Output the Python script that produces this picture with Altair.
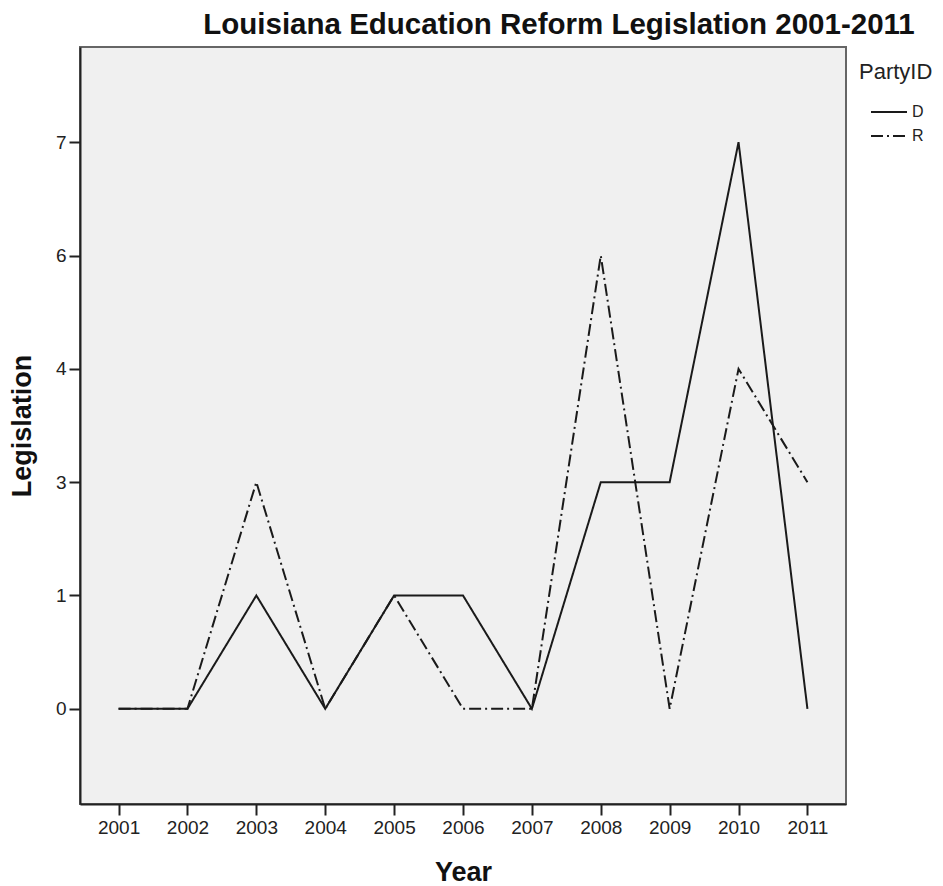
import altair as alt
import pandas as pd

years = [2001, 2002, 2003, 2004, 2005, 2006, 2007, 2008, 2009, 2010, 2011]
dem = [0, 0, 1, 0, 1, 1, 0, 3, 3, 7, 0]
rep = [0, 0, 3, 0, 1, 0, 0, 6, 0, 4, 3]
parties = ["D", "R"]

rows = []
for p, vals in zip(parties, [dem, rep]):
    for y, v in zip(years, vals):
        rows.append({"Year": y, "Legislation": v, "PartyID": p})
df = pd.DataFrame(rows)

FONT = "Liberation Sans"

chart = alt.Chart(df).mark_line(strokeWidth=2, color="#1a1a1a").encode(
    x=alt.X("Year:O", scale=alt.Scale(padding=0.56),
            axis=alt.Axis(title="Year", labelAngle=0, labelFontSize=19, titleFontSize=27,
                          titleFontWeight="bold", tickSize=11, labelPadding=3, titlePadding=22,
                          domainColor="#222", tickColor="#222", labelColor="#222",
                          titleColor="#111", domainWidth=2, tickWidth=2, grid=False)),
    y=alt.Y("Legislation:O", sort="descending", scale=alt.Scale(padding=0.84),
            axis=alt.Axis(title="Legislation", labelFontSize=19, titleFontSize=27,
                          titleFontWeight="bold", tickSize=11, labelPadding=3, titlePadding=19,
                          domainColor="#222", tickColor="#222", labelColor="#222",
                          titleColor="#111", domainWidth=2, tickWidth=2, grid=False)),
    strokeDash=alt.StrokeDash("PartyID:N",
                              scale=alt.Scale(domain=parties, range=[[1, 0], [12, 4, 2, 4]]),
                              legend=alt.Legend(orient="none", legendX=779, legendY=15,
                                                titleFontSize=22, titleFontWeight="normal",
                                                labelFontSize=16, symbolType="M-2,0L2,0",
                                                symbolSize=324, symbolStrokeWidth=2,
                                                symbolStrokeColor="#1a1a1a", symbolOffset=20,
                                                labelOffset=13, rowPadding=6, titlePadding=18,
                                                titleColor="#222", labelColor="#222")),
).properties(
    width=766,
    height=757,
    title=alt.TitleParams("Louisiana Education Reform Legislation 2001-2011", fontSize=29.5,
                          fontWeight="bold", anchor="middle", dx=96, dy=30, offset=14,
                          baseline="alphabetic", color="#111"),
    autosize=alt.AutoSizeParams(type="none"),
    padding={"left": 72, "top": 39, "right": 88, "bottom": 82},
).configure(font=FONT).configure_view(
    fill="#f0f0f0", stroke="#666", strokeWidth=2
)

chart.save("out.html", embed_options={"renderer": "svg", "actions": False})
